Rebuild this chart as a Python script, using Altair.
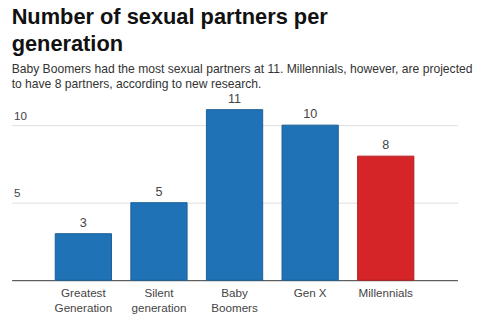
import altair as alt
import pandas as pd

generations = ["Greatest Generation", "Silent generation", "Baby Boomers", "Gen X", "Millennials"]
partners = [3, 5, 11, 10, 8]
highlight = [False, False, False, False, True]
y_ticks = [5, 10]

df = pd.DataFrame({"gen": generations, "partners": partners, "hl": highlight})

x = alt.X("gen:N", sort=generations, title=None,
          scale=alt.Scale(paddingInner=0.256, paddingOuter=0.577),
          axis=alt.Axis(labelExpr="datum.label == 'Gen X' ? datum.label : split(datum.label, ' ')",
                        labelAngle=0, labelFontSize=12, labelColor="#444", labelFont="Arial",
                        labelLineHeight=15, ticks=False, domainColor="#333", domainWidth=1,
                        labelPadding=8))
y = alt.Y("partners:Q", title=None,
          scale=alt.Scale(domain=[0, 12], nice=False),
          axis=alt.Axis(values=y_ticks, grid=True, gridColor="#ddd", domain=False, ticks=False,
                        tickSize=0, labelAlign="left", labelBaseline="bottom", labelPadding=-2,
                        labelOffset=-3, labelFontSize=12, labelColor="#444", labelFont="Arial"))

bars = alt.Chart(df).mark_bar(strokeWidth=1).encode(
    x=x, y=y,
    color=alt.Color("hl:N", scale=alt.Scale(domain=[False, True], range=["#1f72b5", "#d62528"]), legend=None),
    stroke=alt.Color("hl:N", scale=alt.Scale(domain=[False, True], range=["#1a5f96", "#b01f22"]), legend=None),
)
labels = alt.Chart(df).mark_text(baseline="bottom", dy=-4, fontSize=13, color="#444", font="Arial").encode(
    x=alt.X("gen:N", sort=generations), y="partners:Q", text="partners:Q")

chart = (bars + labels).properties(
    width=460, height=192,
    title=alt.TitleParams(
        text=["Number of sexual partners per", "generation"],
        subtitle=["Baby Boomers had the most sexual partners at 11. Millennials, however, are projected",
                  "to have 8 partners, according to new research."],
        anchor="start", frame="group", font="Arial", fontSize=22.5, fontWeight="bold", color="#111",
        lineHeight=28, subtitleFont="Arial", subtitleFontSize=12.5, subtitleColor="#333",
        subtitleLineHeight=15, subtitlePadding=8, offset=3),
    padding={"left": 12, "top": 2, "right": 32, "bottom": 4},
).configure_view(stroke=None).configure_axis(labelFont="Arial")

chart.save("out.html", embed_options={"renderer": "svg", "actions": False})
